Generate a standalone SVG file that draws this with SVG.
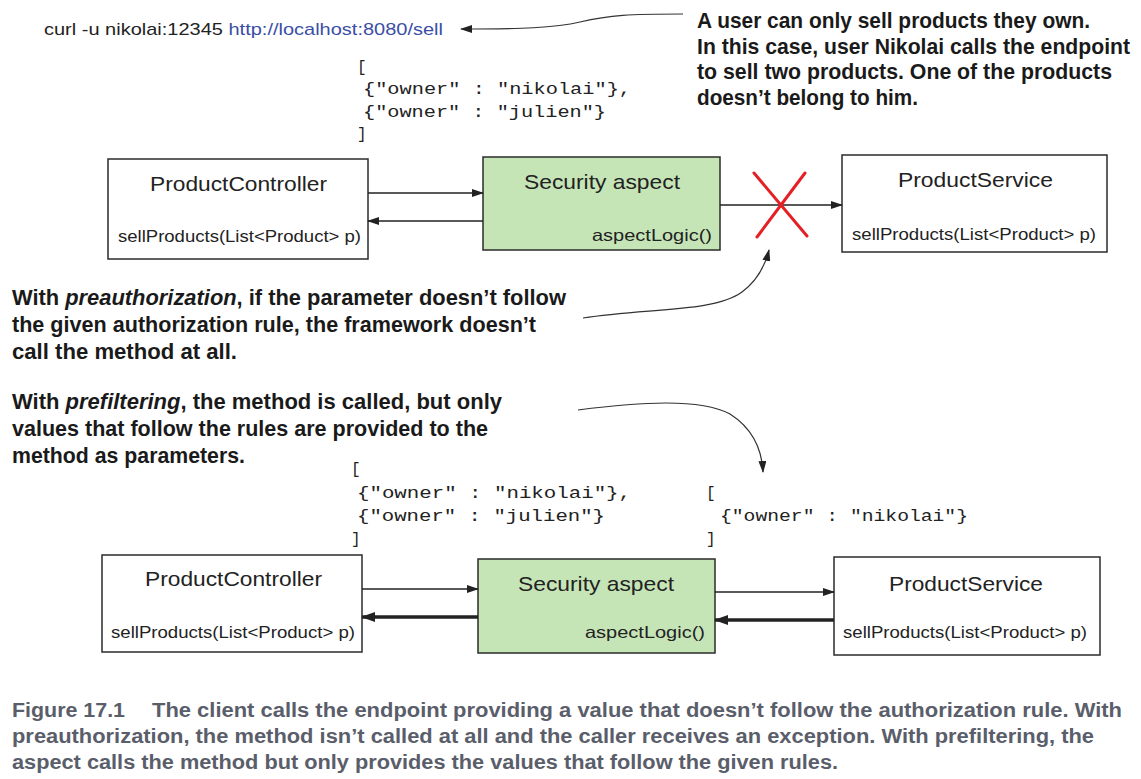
<svg xmlns="http://www.w3.org/2000/svg" width="1141" height="779" viewBox="0 0 1141 779">
<style>
.box{fill:#fff;stroke:#2b2b2b;stroke-width:1.5}
.green{fill:#c6e5b7;stroke:#2b2b2b;stroke-width:1.5}
.t{font-family:"Liberation Sans",Arial,sans-serif;fill:#222}
.title{font-size:21px}
.meth{font-size:16.5px}
.mono{font-family:"Liberation Mono","Courier New",monospace;font-size:16px;fill:#222}
.ann{font-family:"Liberation Sans",Arial,sans-serif;font-weight:bold;font-size:21.5px;fill:#1a1a1a}
.mid{font-size:22.5px}
.cap{font-family:"Liberation Sans",Arial,sans-serif;font-weight:bold;font-size:20px;fill:#5a5e6a}
.ln{fill:none;stroke:#222;stroke-width:1.5}
.thick{fill:none;stroke:#222;stroke-width:3.5}
.curve{fill:none;stroke:#333;stroke-width:1.2}
</style>
<defs>
<marker id="ah" viewBox="0 0 12 8" refX="11" refY="4" markerWidth="12" markerHeight="8" markerUnits="userSpaceOnUse" orient="auto"><path d="M0,0 L12,4 L0,8 z" fill="#222"/></marker>
<marker id="ahb" viewBox="0 0 14 10" refX="13" refY="5" markerWidth="14" markerHeight="10" markerUnits="userSpaceOnUse" orient="auto"><path d="M0,0 L14,5 L0,10 z" fill="#222"/></marker>
</defs>

<g id="request">
<text class="t" x="44" y="35" font-size="17px" textLength="399" lengthAdjust="spacingAndGlyphs">curl -u nikolai:12345 <tspan fill="#3a4ea6">http://localhost:8080/sell</tspan></text>
</g>

<g id="note-top">
<text class="ann" x="697" y="28" textLength="393" lengthAdjust="spacingAndGlyphs">A user can only sell products they own.</text>
<text class="ann" x="697" y="54" textLength="433" lengthAdjust="spacingAndGlyphs">In this case, user Nikolai calls the endpoint</text>
<text class="ann" x="697" y="79" textLength="415" lengthAdjust="spacingAndGlyphs">to sell two products. One of the products</text>
<text class="ann" x="697" y="105" textLength="221" lengthAdjust="spacingAndGlyphs">doesn’t belong to him.</text>
</g>

<g id="json-top">
<text class="mono" x="357" y="72">[</text>
<text class="mono" x="363" y="94" textLength="268" lengthAdjust="spacingAndGlyphs">{"owner" : "nikolai"},</text>
<text class="mono" x="363" y="117" textLength="243" lengthAdjust="spacingAndGlyphs">{"owner" : "julien"}</text>
<text class="mono" x="357" y="139">]</text>
</g>

<g id="top-controller">
<rect class="box" x="108" y="159" width="260" height="100"/>
<text class="t title" x="150" y="191" textLength="177" lengthAdjust="spacingAndGlyphs">ProductController</text>
<text class="t meth" x="118" y="242" textLength="243" lengthAdjust="spacingAndGlyphs">sellProducts(List&lt;Product&gt; p)</text>
</g>
<g id="top-aspect">
<rect class="green" x="483" y="157" width="237" height="93"/>
<text class="t title" x="524" y="189" textLength="156" lengthAdjust="spacingAndGlyphs">Security aspect</text>
<text class="t meth" x="592" y="241" textLength="120" lengthAdjust="spacingAndGlyphs">aspectLogic()</text>
</g>
<g id="top-service">
<rect class="box" x="842" y="155" width="265" height="97"/>
<text class="t title" x="898" y="187" textLength="155" lengthAdjust="spacingAndGlyphs">ProductService</text>
<text class="t meth" x="852" y="240" textLength="244" lengthAdjust="spacingAndGlyphs">sellProducts(List&lt;Product&gt; p)</text>
</g>

<g id="note-preauth">
<text class="ann mid" x="12" y="305" textLength="554" lengthAdjust="spacingAndGlyphs">With <tspan font-style="italic">preauthorization</tspan>, if the parameter doesn’t follow</text>
<text class="ann mid" x="12" y="332" textLength="524" lengthAdjust="spacingAndGlyphs">the given authorization rule, the framework doesn’t</text>
<text class="ann mid" x="12" y="359" textLength="225" lengthAdjust="spacingAndGlyphs">call the method at all.</text>
</g>

<g id="note-prefilter">
<text class="ann mid" x="12" y="409" textLength="490" lengthAdjust="spacingAndGlyphs">With <tspan font-style="italic">prefiltering</tspan>, the method is called, but only</text>
<text class="ann mid" x="12" y="436" textLength="476" lengthAdjust="spacingAndGlyphs">values that follow the rules are provided to the</text>
<text class="ann mid" x="12" y="463" textLength="233" lengthAdjust="spacingAndGlyphs">method as parameters.</text>
</g>

<g id="json-bottom-left">
<text class="mono" x="351" y="474">[</text>
<text class="mono" x="357" y="498" textLength="274" lengthAdjust="spacingAndGlyphs">{"owner" : "nikolai"},</text>
<text class="mono" x="357" y="521" textLength="248" lengthAdjust="spacingAndGlyphs">{"owner" : "julien"}</text>
<text class="mono" x="351" y="544">]</text>
</g>
<g id="json-bottom-right">
<text class="mono" x="706" y="498">[</text>
<text class="mono" x="720" y="521" textLength="248" lengthAdjust="spacingAndGlyphs">{"owner" : "nikolai"}</text>
<text class="mono" x="706" y="544">]</text>
</g>

<g id="bottom-controller">
<rect class="box" x="102" y="555" width="260" height="97"/>
<text class="t title" x="145" y="586" textLength="177" lengthAdjust="spacingAndGlyphs">ProductController</text>
<text class="t meth" x="111" y="638" textLength="244" lengthAdjust="spacingAndGlyphs">sellProducts(List&lt;Product&gt; p)</text>
</g>
<g id="bottom-aspect">
<rect class="green" x="478" y="559" width="237" height="94"/>
<text class="t title" x="518" y="591" textLength="156" lengthAdjust="spacingAndGlyphs">Security aspect</text>
<text class="t meth" x="585" y="638" textLength="120" lengthAdjust="spacingAndGlyphs">aspectLogic()</text>
</g>
<g id="bottom-service">
<rect class="box" x="834" y="557" width="266" height="98"/>
<text class="t title" x="889" y="591" textLength="154" lengthAdjust="spacingAndGlyphs">ProductService</text>
<text class="t meth" x="843" y="638" textLength="244" lengthAdjust="spacingAndGlyphs">sellProducts(List&lt;Product&gt; p)</text>
</g>

<g id="connectors">
<path class="curve" d="M 683 14 C 630 14, 610 15, 580 22 C 555 28, 520 29, 461 29" marker-end="url(#ah)"/>
<line class="ln" x1="368" y1="193" x2="483" y2="193" marker-end="url(#ah)"/>
<line class="ln" x1="483" y1="221" x2="368" y2="221" marker-end="url(#ah)"/>
<line class="ln" x1="720" y1="205" x2="842" y2="205" marker-end="url(#ah)"/>
<g id="blocked" stroke="#e41f26" stroke-width="3" stroke-linecap="round">
<line x1="754" y1="173" x2="807" y2="236"/>
<line x1="805" y1="173" x2="757" y2="237"/>
</g>
<path class="curve" d="M 583 318 C 650 308, 715 312, 742 292 C 758 280, 765 266, 769 250" marker-end="url(#ah)"/>
<path class="curve" d="M 578 410 C 640 402, 700 398, 730 414 C 755 430, 762 452, 763 472" marker-end="url(#ah)"/>
<line class="ln" x1="362" y1="589" x2="478" y2="589" marker-end="url(#ah)"/>
<line class="thick" x1="478" y1="617" x2="362" y2="617" marker-end="url(#ahb)"/>
<line class="ln" x1="715" y1="592" x2="834" y2="592" marker-end="url(#ah)"/>
<line class="thick" x1="834" y1="620" x2="715" y2="620" marker-end="url(#ahb)"/>
</g>

<g id="caption">
<text class="cap" x="12" y="717" textLength="113" lengthAdjust="spacingAndGlyphs">Figure 17.1</text>
<text class="cap" x="152" y="717" textLength="970" lengthAdjust="spacingAndGlyphs">The client calls the endpoint providing a value that doesn’t follow the authorization rule. With</text>
<text class="cap" x="12" y="743" textLength="1082" lengthAdjust="spacingAndGlyphs">preauthorization, the method isn’t called at all and the caller receives an exception. With prefiltering, the</text>
<text class="cap" x="12" y="769" textLength="826" lengthAdjust="spacingAndGlyphs">aspect calls the method but only provides the values that follow the given rules.</text>
</g>
</svg>
